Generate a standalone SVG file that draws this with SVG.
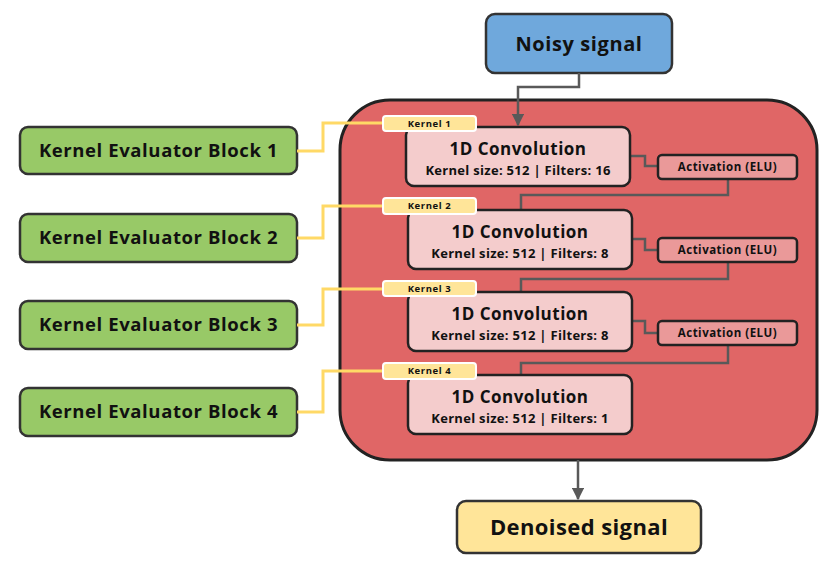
<svg xmlns="http://www.w3.org/2000/svg" width="837" height="574" viewBox="0 0 837 574">
<defs>
<marker id="arr" viewBox="0 0 10 10" refX="9" refY="5" markerWidth="5" markerHeight="5" orient="auto" markerUnits="strokeWidth">
<path d="M0,0 L10,5 L0,10 z" fill="#595959"/>
</marker>
<style>
text{font-family:"Open Sans","Liberation Sans",sans-serif;font-weight:bold;fill:#111;text-anchor:middle}
.node{stroke:#333;stroke-width:2.5}
.conv{fill:#f4cccc;stroke:#222;stroke-width:2.5}
.act{fill:#ea9999;stroke:#222;stroke-width:2.5}
.green{fill:#98c967}
.klab{fill:#ffe599;stroke:#fff;stroke-width:2}
.wire{fill:none;stroke:#595959;stroke-width:2.5}
.yw{fill:none;stroke:#ffd966;stroke-width:3}
.t-big{font-size:20px;letter-spacing:0.6px}
.t-conv{font-size:17px;letter-spacing:0.5px}
.t-sub{font-size:13px;letter-spacing:0.3px}
.t-act{font-size:11.5px;letter-spacing:0.5px}
.t-k{font-size:9.5px;letter-spacing:0.6px}
.t-keb{font-size:18.5px;letter-spacing:0.6px}
</style>
</defs>
<g id="container">
<rect x="340" y="100" width="477" height="360" rx="50" fill="#e06666" stroke="#222" stroke-width="3"/>
</g>
<g id="noisy">
<rect class="node" x="486" y="14" width="186" height="59" rx="9" fill="#6fa8dc"/>
<text class="t-big" x="579" y="51">Noisy signal</text>
</g>
<g id="denoised">
<rect class="node" x="457" y="501" width="244" height="52" rx="9" fill="#ffe599"/>
<text x="579" y="535" style="font-size:22px;letter-spacing:0.4px">Denoised signal</text>
</g>
<g id="keb1"><rect class="node green" x="20" y="127" width="277" height="47" rx="8"/><text class="t-keb" x="158.5" y="157">Kernel Evaluator Block 1</text></g>
<g id="keb2"><rect class="node green" x="20" y="214" width="277" height="48" rx="8"/><text class="t-keb" x="158.5" y="244">Kernel Evaluator Block 2</text></g>
<g id="keb3"><rect class="node green" x="20" y="301" width="277" height="48" rx="8"/><text class="t-keb" x="158.5" y="331">Kernel Evaluator Block 3</text></g>
<g id="keb4"><rect class="node green" x="20" y="388" width="277" height="48" rx="8"/><text class="t-keb" x="158.5" y="418">Kernel Evaluator Block 4</text></g>
<g id="connectors">
<path class="wire" d="M579,73 V87 H518 V125" marker-end="url(#arr)"/>
<path class="wire" d="M630,156 H645 V166 H658"/>
<path class="wire" d="M728,179 V195 H521 V210"/>
<path class="wire" d="M632,239 H645 V250 H658"/>
<path class="wire" d="M728,262 V279 H521 V292"/>
<path class="wire" d="M632,321 H645 V333 H658"/>
<path class="wire" d="M728,345 V363 H521 V375"/>
<path class="wire" d="M578,460 V499" marker-end="url(#arr)"/>
<path class="yw" d="M297,151 H323 V123 H383"/>
<path class="yw" d="M297,238 H323 V206 H383"/>
<path class="yw" d="M297,325 H323 V289 H383"/>
<path class="yw" d="M297,412 H323 V371 H383"/>
</g>
<g id="conv1"><rect class="conv" x="406" y="127" width="224" height="59" rx="8"/><text class="t-conv" x="518" y="155">1D Convolution</text><text class="t-sub" x="518" y="175">Kernel size: 512 | Filters: 16</text></g>
<g id="conv2"><rect class="conv" x="408" y="210" width="224" height="59" rx="8"/><text class="t-conv" x="520" y="238">1D Convolution</text><text class="t-sub" x="520" y="258">Kernel size: 512 | Filters: 8</text></g>
<g id="conv3"><rect class="conv" x="408" y="292" width="224" height="59" rx="8"/><text class="t-conv" x="520" y="320">1D Convolution</text><text class="t-sub" x="520" y="340">Kernel size: 512 | Filters: 8</text></g>
<g id="conv4"><rect class="conv" x="408" y="375" width="224" height="59" rx="8"/><text class="t-conv" x="520" y="403">1D Convolution</text><text class="t-sub" x="520" y="423">Kernel size: 512 | Filters: 1</text></g>
<g id="act1"><rect class="act" x="658" y="155" width="139" height="24" rx="4"/><text class="t-act" x="727.5" y="171">Activation (ELU)</text></g>
<g id="act2"><rect class="act" x="658" y="238" width="139" height="24" rx="4"/><text class="t-act" x="727.5" y="254">Activation (ELU)</text></g>
<g id="act3"><rect class="act" x="658" y="321" width="139" height="24" rx="4"/><text class="t-act" x="727.5" y="337">Activation (ELU)</text></g>
<g id="k1"><rect class="klab" x="383" y="116" width="93" height="15" rx="3"/><text class="t-k" x="429.5" y="126.8">Kernel 1</text></g>
<g id="k2"><rect class="klab" x="383" y="198" width="93" height="16" rx="3"/><text class="t-k" x="429.5" y="209.3">Kernel 2</text></g>
<g id="k3"><rect class="klab" x="383" y="281" width="93" height="15" rx="3"/><text class="t-k" x="429.5" y="291.8">Kernel 3</text></g>
<g id="k4"><rect class="klab" x="383" y="363" width="93" height="16" rx="3"/><text class="t-k" x="429.5" y="374.3">Kernel 4</text></g>
</svg>
